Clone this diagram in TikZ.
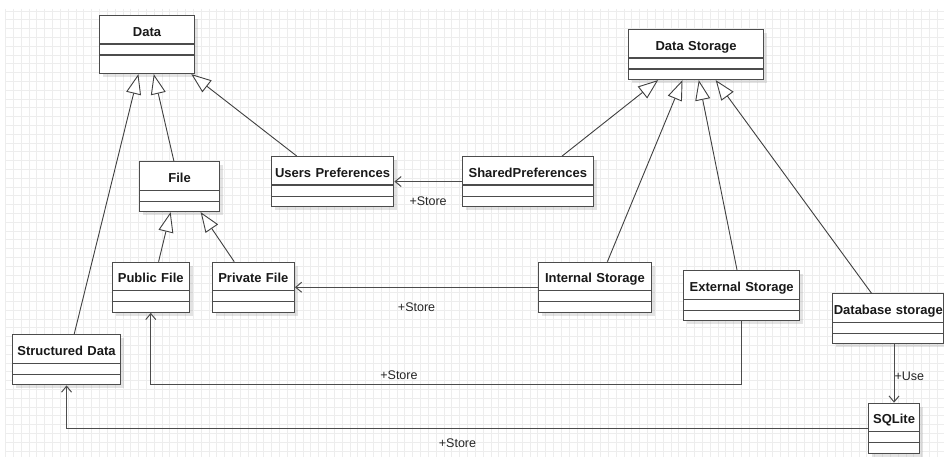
\documentclass[tikz,border=0pt]{standalone}
\usepackage{fontspec}
\setmainfont{Liberation Sans}
\usetikzlibrary{arrows.meta,calc,positioning,shadows}

\begin{document}
\begin{tikzpicture}[
    x=1pt, y=-1pt,
    gridline/.style={draw=black!7, line width=0.9pt},
    klass/.style={rectangle, draw=black!70, line width=1.1pt, fill=white,
      inner xsep=0pt, inner ysep=0pt, minimum height=50pt,
      text height=10pt, text depth=19pt, align=center, anchor=north west,
      text=black!90, font=\fontsize{13}{15}\selectfont\bfseries,
      drop shadow={shadow xshift=3.5pt, shadow yshift=-3.5pt, opacity=0.22},
      path picture={
        \draw[black!70, line width=1.1pt]
          ([yshift=-28.5pt]path picture bounding box.north west) -- ([yshift=-28.5pt]path picture bounding box.north east)
          ([yshift=-39.5pt]path picture bounding box.north west) -- ([yshift=-39.5pt]path picture bounding box.north east);
      }},
    gen/.style={draw=black!75, line width=0.9pt, -{Triangle[length=20pt, width=15pt, fill=white]}},
    assoc/.style={draw=black!70, line width=1pt, -{Straight Barb[length=6pt, width=10pt]}},
    lbl/.style={font=\fontsize{12.5}{14}\selectfont, text=black!85},
  ]

  \useasboundingbox (0,0) rectangle (944,457);
  \fill[white] (0,0) rectangle (944,457);

  % background grid
  \foreach \gx in {0,...,119} \draw[gridline] (5.5+\gx*7.83, 9) -- (5.5+\gx*7.83, 457);
  \foreach \gy in {0,...,50} \draw[gridline] (5.5, 11+\gy*8.8) -- (944, 11+\gy*8.8);

  % top classes
  \node[klass, text width=95pt, minimum height=58pt, text depth=27pt] (data) at (99,15) {Data};
  \node[klass, text width=134.4pt] (datastore) at (628.3,29) {Data Storage};

  % second row
  \node[klass, text width=80pt] (file) at (139,161) {File};
  \node[klass, text width=122.6pt] (userpref) at (270.7,156) {Users Preferences};
  \node[klass, text width=131pt, right=67.4pt of userpref] (sharedpref) {SharedPreferences};

  % storage row
  \node[klass, text width=77pt] (pubfile) at (111.7,261.7) {Public File};
  \node[klass, text width=82pt, right=22pt of pubfile] (privfile) {Private File};
  \node[klass, text width=112.3pt, right=243.3pt of privfile] (internal) {Internal Storage};
  \node[klass, text width=115.7pt] (external) at (683.3,270) {External Storage};
  \node[klass, text width=111pt] (dbstore) at (832.3,293.3) {Database storage};

  % bottom classes
  \node[klass, text width=107.4pt] (structdata) at (12.3,334.3) {Structured Data};
  \node[klass, text width=51.6pt] (sqlite) at (867.7,402.7) {SQLite};

  % generalizations
  \draw[gen] ($(structdata.north west)!0.57!(structdata.north east)$) -- ($(data.south west)!0.41!(data.south east)$);
  \draw[gen] ($(file.north west)!0.43!(file.north east)$) -- ($(data.south west)!0.57!(data.south east)$);
  \draw[gen] ($(userpref.north west)!0.21!(userpref.north east)$) -- ($(data.south west)!0.96!(data.south east)$);
  \draw[gen] ($(pubfile.north west)!0.6!(pubfile.north east)$) -- ($(file.south west)!0.39!(file.south east)$);
  \draw[gen] ($(privfile.north west)!0.27!(privfile.north east)$) -- ($(file.south west)!0.76!(file.south east)$);
  \draw[gen] ($(sharedpref.north west)!0.76!(sharedpref.north east)$) -- ($(datastore.south west)!0.22!(datastore.south east)$);
  \draw[gen] ($(internal.north west)!0.61!(internal.north east)$) -- ($(datastore.south west)!0.4!(datastore.south east)$);
  \draw[gen] ($(external.north west)!0.46!(external.north east)$) -- ($(datastore.south west)!0.52!(datastore.south east)$);
  \draw[gen] ($(dbstore.north west)!0.35!(dbstore.north east)$) -- ($(datastore.south west)!0.645!(datastore.south east)$);

  % associations
  \draw[assoc] (sharedpref) -- node[lbl, below=11pt] {+Store} (userpref);
  \draw[assoc] (internal) -- node[lbl, below=12pt] {+Store} (privfile);
  \draw[assoc] (external.south) -- ++(0,63.3) -| node[lbl, pos=0.29, above=1pt] {+Store} (pubfile.south);
  \draw[assoc] (sqlite.west) -| node[lbl, pos=0.256, below=7pt] {+Store} (structdata.south);
  \draw[assoc] (sqlite.north |- dbstore.south) -- node[lbl, right, inner xsep=0pt, pos=0.55] {+Use} (sqlite.north);

\end{tikzpicture}
\end{document}
